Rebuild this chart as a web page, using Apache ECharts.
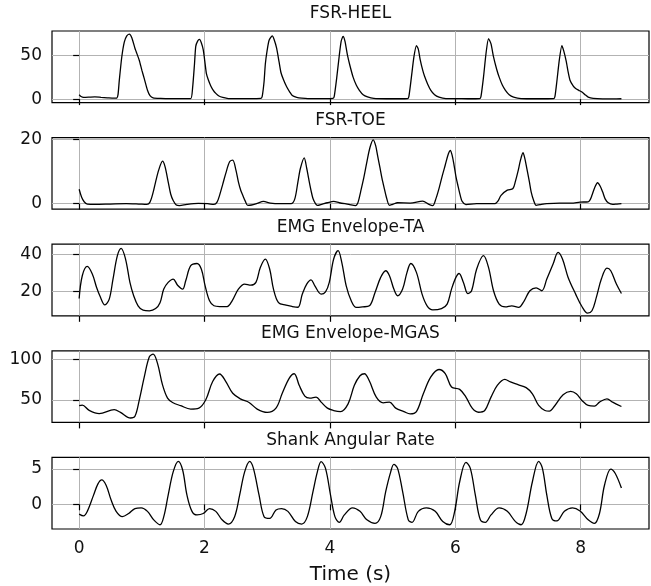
<!DOCTYPE html>
<html>
<head>
<meta charset="utf-8">
<script src="https://cdn.jsdelivr.net/npm/echarts@6/dist/echarts.min.js"></script>
<style>
  html, body { margin: 0; padding: 0; background: #ffffff; }
  #chart { width: 651px; height: 586px; }
</style>
</head>
<body>
<div id="chart"></div>
<script>
// Gait recording: foot pressure, muscle activity and shank rotation over time
const panelTitles = ['FSR-HEEL', 'FSR-TOE', 'EMG Envelope-TA', 'EMG Envelope-MGAS', 'Shank Angular Rate'];
const xTickValues = [0, 2, 4, 6, 8];
const yTickValues = [[0, 50], [0, 20], [20, 40], [50, 100], [0, 5]];
const xLabel = 'Time (s)';

// [time (s), value]
const fsrHeel = [
  [0,5],[0.03,3],[0.07,2],[0.15,2.2],[0.25,2.6],[0.35,2],[0.45,1.5],[0.55,1],[0.60,1.2],
  [0.62,5],[0.64,21],[0.68,48],[0.72,65],[0.76,72],[0.80,74],[0.84,70],[0.89,58],[0.91,54],
  [0.96,44],[1.00,33],[1.04,23],[1.09,10],[1.13,4],[1.18,1.5],[1.30,0.8],[1.45,0.5],[1.60,0.6],[1.78,0.6],
  [1.81,13],[1.84,40],[1.86,60],[1.89,66],[1.92,68],[1.95,64],[1.98,56],[2.01,40],[2.03,29],
  [2.06,22],[2.10,15],[2.14,10],[2.18,6.5],[2.23,3.5],[2.29,2],[2.40,0.5],[2.70,0.5],[2.90,0.7],
  [2.92,3],[2.95,20],[2.97,40],[3.00,56],[3.03,67],[3.08,72],[3.11,68],[3.15,58],[3.19,42],
  [3.22,30],[3.26,22],[3.31,14],[3.36,8],[3.40,4],[3.47,2],[3.55,1],[3.65,0.5],[3.90,0.5],[4.05,0.8],
  [4.07,3.5],[4.11,25],[4.15,50],[4.18,66],[4.21,71.5],[4.24,66],[4.28,50],[4.32,38],[4.37,25],
  [4.42,16],[4.47,10],[4.53,5],[4.60,2.5],[4.70,0.8],[4.90,0.4],[5.10,0.4],[5.24,0.6],
  [5.26,3],[5.30,25],[5.34,48],[5.38,61],[5.41,57],[5.44,45],[5.48,33],[5.51,26],[5.56,17],
  [5.61,10],[5.67,5],[5.74,2.3],[5.85,0.6],[6.00,0.5],[6.20,0.4],[6.39,0.6],
  [6.41,3],[6.45,25],[6.49,52],[6.53,69],[6.57,63],[6.61,48],[6.66,34],[6.70,25],[6.75,16],
  [6.80,10],[6.86,5],[6.93,2.3],[7.05,0.6],[7.30,0.4],[7.57,0.6],
  [7.59,3],[7.62,20],[7.66,45],[7.70,61],[7.73,55],[7.77,43],[7.80,31],[7.83,21.5],[7.88,15],
  [7.92,12],[7.97,10],[8.02,8],[8.07,5],[8.12,2.3],[8.20,0.8],[8.35,0.3],[8.50,0.3],[8.65,0.4]
];

const fsrToe = [
  [0,4.5],[0.04,2],[0.08,0.6],[0.13,-0.1],[0.25,-0.2],[0.50,-0.1],[0.75,0],[0.95,-0.1],[1.08,-0.2],
  [1.13,0.5],[1.18,3.5],[1.22,6.8],[1.27,10.5],[1.33,13.2],[1.37,11.5],[1.42,6.8],[1.46,3],[1.50,1],
  [1.55,-0.4],[1.60,-0.6],[1.72,-0.2],[1.90,0.1],[2.05,0],[2.15,-0.2],
  [2.20,0.5],[2.24,2.6],[2.29,6],[2.34,9.5],[2.40,13],[2.45,13.5],[2.50,10.5],[2.54,6.8],[2.58,4],
  [2.61,2.6],[2.65,0.8],[2.69,-0.5],[2.75,-0.4],[2.84,0.1],[2.94,0.7],[3.05,0.2],[3.20,0],[3.38,0],
  [3.44,1.5],[3.49,6.8],[3.53,11],[3.59,14.2],[3.63,11],[3.66,7.9],[3.70,4],[3.73,1.6],[3.77,0],
  [3.80,-0.5],[3.88,-0.1],[3.96,0.3],[4.06,0.7],[4.15,0.3],[4.30,-0.2],[4.41,-0.6],
  [4.45,0.5],[4.49,3.7],[4.54,8],[4.59,13],[4.64,17.5],[4.69,19.8],[4.73,18],[4.76,15],[4.80,11],
  [4.83,7.9],[4.87,4.5],[4.90,2.1],[4.95,-0.5],[5.00,-0.2],[5.08,0.3],[5.28,0.2],[5.48,0.8],
  [5.58,-0.2],[5.64,-0.6],
  [5.69,1.5],[5.74,4.7],[5.79,8.5],[5.84,12],[5.89,15.5],[5.92,16.5],[5.95,15],[5.98,12],[6.01,8.5],
  [6.04,5.8],[6.08,2.5],[6.11,0.7],[6.17,-0.3],[6.34,0],[6.63,0],
  [6.68,0.8],[6.73,2.6],[6.83,4.2],[6.92,4.7],[6.96,7],[7.00,10],[7.04,13.5],[7.08,15.8],[7.11,14],
  [7.14,11],[7.18,7],[7.21,3.7],[7.25,1],[7.29,-0.5],[7.35,-0.3],[7.46,0],[7.66,0.2],[7.85,0.2],
  [7.99,0.5],[8.12,0.6],[8.15,1.2],[8.18,2.6],[8.22,4.8],[8.27,6.5],[8.31,5.5],[8.35,3.7],[8.39,1.5],
  [8.44,0.3],[8.51,-0.2],[8.58,-0.1],[8.65,0]
];

const emgTA = [
  [0,16.2],[0.05,28.5],[0.13,33.5],[0.21,29.4],[0.28,22],[0.33,17.7],[0.41,12.8],[0.48,15.9],
  [0.54,26.7],[0.61,39.3],[0.67,43.2],[0.74,37.5],[0.81,24.9],[0.87,17.7],[0.94,12.3],[1.02,9.9],
  [1.12,9.6],[1.22,10.8],[1.29,14],[1.35,21.3],[1.42,24.9],[1.50,26.7],[1.57,23.4],[1.65,21.3],
  [1.70,25.8],[1.78,33.9],[1.88,35.1],[1.95,32],[2.01,23],[2.08,15],[2.15,12.3],[2.24,11.9],
  [2.36,11.9],[2.44,15],[2.54,21.3],[2.64,24],[2.74,23.4],[2.82,24.9],[2.89,33],[2.97,37.5],
  [3.04,32],[3.10,21.3],[3.18,14],[3.30,12.6],[3.40,11.9],[3.49,11.5],[3.56,18.6],[3.63,24],
  [3.70,26.3],[3.76,23],[3.86,18.6],[3.93,19.8],[3.99,24.9],[4.06,37.5],[4.13,42],[4.19,35.6],
  [4.26,23],[4.34,15],[4.42,11.4],[4.52,11.7],[4.63,12.3],[4.72,19.5],[4.81,27.6],[4.89,31.2],
  [4.95,28.5],[5.02,21.3],[5.08,17.7],[5.16,21.3],[5.23,30.3],[5.29,35.1],[5.38,30.3],[5.47,18.6],
  [5.55,12.3],[5.64,10.1],[5.78,10.8],[5.87,13.2],[5.94,21.3],[6.01,27.6],[6.06,29.7],[6.13,24.9],
  [6.20,18.9],[6.26,20.4],[6.34,32],[6.45,39.3],[6.53,33],[6.61,20.4],[6.70,13.2],[6.80,11.7],
  [6.90,12.3],[7.01,11.4],[7.10,15],[7.19,20.4],[7.29,22],[7.38,20.4],[7.46,26.7],[7.56,34.8],
  [7.64,41.1],[7.71,37.5],[7.80,27.6],[7.92,18.6],[8.02,11.9],[8.11,8.3],[8.18,9.6],[8.25,16.8],
  [8.33,26.7],[8.42,32.6],[8.48,31.2],[8.57,24],[8.65,18.9]
];

const emgMGAS = [
  [0,42.7],[0.05,43.5],[0.16,37],[0.32,33],[0.56,37.8],[0.66,34.5],[0.82,27.6],[0.89,29.7],
  [0.96,50],[1.04,78.5],[1.12,102.8],[1.18,106],[1.25,94.7],[1.33,68.3],[1.41,52],[1.49,46.7],
  [1.62,42.7],[1.78,38.6],[1.91,39.8],[2.02,50],[2.13,72.4],[2.24,81.7],[2.34,72.4],[2.45,58],
  [2.58,50.8],[2.71,46.7],[2.84,38.6],[3.00,34.5],[3.14,39.8],[3.24,58],[3.35,76.4],[3.43,82],
  [3.51,67.8],[3.60,54.5],
  [3.68,52.1],[3.78,53.3],[3.86,47.1],[3.96,39.7],[4.06,36.8],[4.17,35.5],[4.29,45],[4.39,67.8],
  [4.48,79.5],[4.55,82],[4.63,73],[4.74,53.3],[4.85,46.3],[4.95,47.1],[5.05,39.7],[5.18,35.5],
  [5.28,32.7],[5.38,35.5],[5.49,57.4],[5.61,78.1],[5.74,87.2],[5.84,82.2],[5.94,65.7],[6.07,62.8],
  [6.17,53.3],[6.27,39.7],[6.37,34.7],[6.47,36.8],[6.57,53.3],[6.67,67.8],[6.79,75.2],[6.88,71.9],
  [7.00,68.6],[7.13,64.9],[7.23,57.4],[7.33,43],[7.43,36.8],[7.50,36],[7.59,43],[7.72,56.2],
  [7.84,60.3],[7.93,57.4],[8.02,49.2],[8.12,43],[8.22,42.2],[8.30,47.1],[8.42,51.2],[8.51,47.1],
  [8.65,41.7]
];

const shankRate = [
  [0,-1.4],[0.07,-1.65],[0.13,-1.0],[0.23,1.3],[0.30,2.9],[0.36,3.45],[0.43,2.7],[0.51,0.6],
  [0.59,-1.0],[0.69,-1.75],[0.79,-1.3],[0.89,-0.6],[0.99,-0.5],[1.09,-1.0],[1.19,-2.2],[1.29,-2.9],
  [1.35,-1.75],[1.42,1.3],[1.50,4.6],[1.58,6.1],[1.65,4.9],[1.72,1.3],[1.80,-1.0],[1.88,-1.5],
  [1.98,-1.3],[2.08,-0.6],[2.18,-1.0],[2.28,-2.2],[2.38,-2.8],[2.48,-1.75],[2.56,1.3],[2.64,4.6],
  [2.72,6.1],[2.78,5.1],[2.87,1.3],[2.95,-1.75],[3.04,-2.0],[3.14,-0.8],[3.23,-0.6],[3.33,-1.0],
  [3.45,-2.45],[3.55,-2.8],[3.64,-1.75],[3.73,1.8],[3.80,4.6],[3.86,6.05],[3.93,5.1],[4.01,1.3],
  [4.08,-1.75],[4.15,-2.55],[4.23,-1.5],[4.36,-0.5],[4.48,-1.0],[4.59,-2.2],[4.72,-2.7],[4.81,-1.75],
  [4.89,1.8],[4.97,4.6],[5.02,5.65],[5.08,5.1],[5.16,1.8],[5.25,-2.2],[5.31,-2.55],[5.41,-1.0],
  [5.54,-0.5],[5.68,-1.0],[5.80,-2.45],[5.91,-2.9],[5.99,-1.0],[6.07,3.2],[6.17,5.95],[6.24,5.1],
  [6.32,1.3],[6.40,-2.2],[6.48,-2.55],[6.57,-1.5],[6.70,-0.5],[6.83,-1.0],[6.96,-2.45],[7.05,-2.9],
  [7.13,-1.3],[7.23,3.2],[7.33,6.1],[7.39,5.1],[7.46,1.3],[7.54,-2.0],[7.62,-2.35],[7.74,-1.0],
  [7.87,-0.5],[7.99,-0.95],[8.12,-2.2],[8.22,-2.7],[8.30,-1.3],[8.38,2.7],[8.48,5.0],[8.55,4.4],
  [8.65,2.3]
];

const seriesData = [fsrHeel, fsrToe, emgTA, emgMGAS, shankRate];

// Axis limits (matplotlib-style 5% padding around the data)
const xLimits = [-0.433, 9.09];
const yLimits = [[-4, 77.6], [-1.7, 20.5], [6.9, 45.5], [22.2, 110.2], [-3.5, 6.65]];

const FONT = 'DejaVu Sans';
const plotLeft = 52, plotWidth = 597, plotHeight = 71.6;
const plotTops = [31, 137.6, 244.2, 350.8, 457.4];
const smoothness = [0.2, 0.3, 0.35, 0.35, 0.35];

const grids = [], xAxes = [], yAxes = [], series = [], graphics = [];
for (let i = 0; i < 5; i++) {
  const last = i === 4;
  grids.push({
    left: plotLeft, top: plotTops[i], width: plotWidth, height: plotHeight,
    show: true, borderColor: '#000', borderWidth: 1.2, backgroundColor: 'transparent'
  });
  xAxes.push({
    gridIndex: i, type: 'value', min: xLimits[0], max: xLimits[1],
    axisLine: { show: false },
    axisTick: { show: true, customValues: xTickValues, length: 6, inside: false,
                lineStyle: { color: '#000', width: 1.2 } },
    axisLabel: { show: last, customValues: xTickValues, margin: 11, fontSize: 17,
                 color: '#111', fontFamily: FONT },
    splitLine: { show: true, lineStyle: { color: '#b3b3b3', width: 1 } },
    name: last ? xLabel : '', nameLocation: 'middle', nameGap: 36,
    nameTextStyle: { fontSize: 20, color: '#111', fontFamily: FONT }
  });
  yAxes.push({
    gridIndex: i, type: 'value', min: yLimits[i][0], max: yLimits[i][1],
    axisLine: { show: false },
    axisTick: { show: true, customValues: yTickValues[i], length: 6, inside: false,
                lineStyle: { color: '#000', width: 1.2 } },
    axisLabel: { show: true, customValues: yTickValues[i], margin: 10, fontSize: 17,
                 color: '#111', fontFamily: FONT },
    splitLine: { show: true, lineStyle: { color: '#b3b3b3', width: 1 } }
  });
  series.push({
    type: 'line', xAxisIndex: i, yAxisIndex: i, data: seriesData[i],
    showSymbol: false, symbol: 'none', smooth: smoothness[i],
    lineStyle: { color: '#000', width: 1.3 }, silent: true
  });
  graphics.push({
    type: 'text', x: plotLeft + plotWidth / 2, y: plotTops[i] - 17,
    style: { text: panelTitles[i], align: 'center', verticalAlign: 'middle',
             font: '17px "' + FONT + '"', fill: '#111' }
  });
}

const chart = echarts.init(document.getElementById('chart'), null, { renderer: 'canvas' });
chart.setOption({
  animation: false,
  backgroundColor: '#ffffff',
  grid: grids,
  xAxis: xAxes,
  yAxis: yAxes,
  series: series,
  graphic: graphics
});
</script>
</body>
</html>
